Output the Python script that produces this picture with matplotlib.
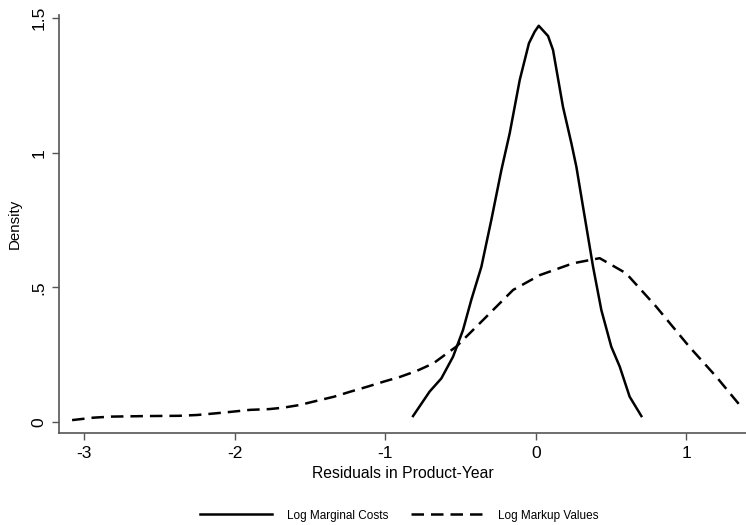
import matplotlib
matplotlib.use('Agg')
import matplotlib.pyplot as plt

plt.rcParams['font.family'] = ['Liberation Sans', 'DejaVu Sans']

# Log marginal costs (kernel density)
mc_x = [-0.815, -0.705, -0.627, -0.549, -0.483, -0.428, -0.361, -0.295, -0.228,
        -0.173, -0.106, -0.045, -0.007, 0.020, 0.082, 0.115, 0.181, 0.237,
        0.270, 0.314, 0.381, 0.436, 0.502, 0.558, 0.624, 0.702]
mc_y = [0.021, 0.112, 0.161, 0.242, 0.341, 0.453, 0.576, 0.750, 0.936,
        1.072, 1.271, 1.407, 1.450, 1.472, 1.434, 1.382, 1.171, 1.035,
        0.948, 0.800, 0.576, 0.415, 0.279, 0.205, 0.093, 0.021]

# Log markup values
mk_x = [-3.08, -2.94, -2.82, -2.59, -2.37, -2.25, -2.13, -2.02, -1.90, -1.77,
        -1.68, -1.57, -1.46, -1.34, -1.23, -1.12, -1.01, -0.90, -0.79, -0.68,
        -0.59, -0.528, -0.35, -0.15, 0.027, 0.248, 0.425, 0.60, 0.80, 1.02,
        1.20, 1.355]
mk_y = [0.006, 0.015, 0.019, 0.021, 0.022, 0.025, 0.031, 0.037, 0.044, 0.047,
        0.052, 0.062, 0.077, 0.093, 0.112, 0.130, 0.149, 0.167, 0.189, 0.217,
        0.254, 0.279, 0.378, 0.490, 0.545, 0.589, 0.608, 0.552, 0.428, 0.279,
        0.167, 0.062]

xticks = [-3, -2, -1, 0, 1]
xtick_labels = ['-3', '-2', '-1', '0', '1']
yticks = [0, 0.5, 1, 1.5]
ytick_labels = ['0', '.5', '1', '1.5']

fig = plt.figure(figsize=(7.46, 5.25), dpi=100)
ax = fig.add_axes([0.0791, 0.1752, 0.9209, 0.7962])

ax.plot(mc_x, mc_y, color='black', lw=1.8, label='Log Marginal Costs')
ax.plot(mk_x, mk_y, color='black', lw=1.8, dashes=(5, 2.8), label='Log Markup Values')

ax.set_xlim(-3.167, 1.397)
ax.set_ylim(-0.042, 1.512)
ax.set_xticks(xticks)
ax.set_xticklabels(xtick_labels)
ax.set_yticks(yticks)
ax.set_yticklabels(ytick_labels, rotation=90, va='center')
ax.tick_params(direction='out', length=5, width=1, color='#555555',
               labelsize=12.5, pad=4)

for s in ['top', 'right']:
    ax.spines[s].set_visible(False)
for s in ['left', 'bottom']:
    ax.spines[s].set_color('#555555')
    ax.spines[s].set_linewidth(1.2)

ax.set_xlabel('Residuals in Product-Year', fontsize=11.3, labelpad=4)
ax.set_ylabel('Density', fontsize=10.8, labelpad=7)

# legend centred under the plot region, as Stata does
fig.legend(loc='center', bbox_to_anchor=(0.535, 0.018), ncol=2, frameon=False,
           fontsize=8.5, handlelength=6.1, handletextpad=1.27, columnspacing=1.95)

fig.savefig('out.png', dpi=100)
